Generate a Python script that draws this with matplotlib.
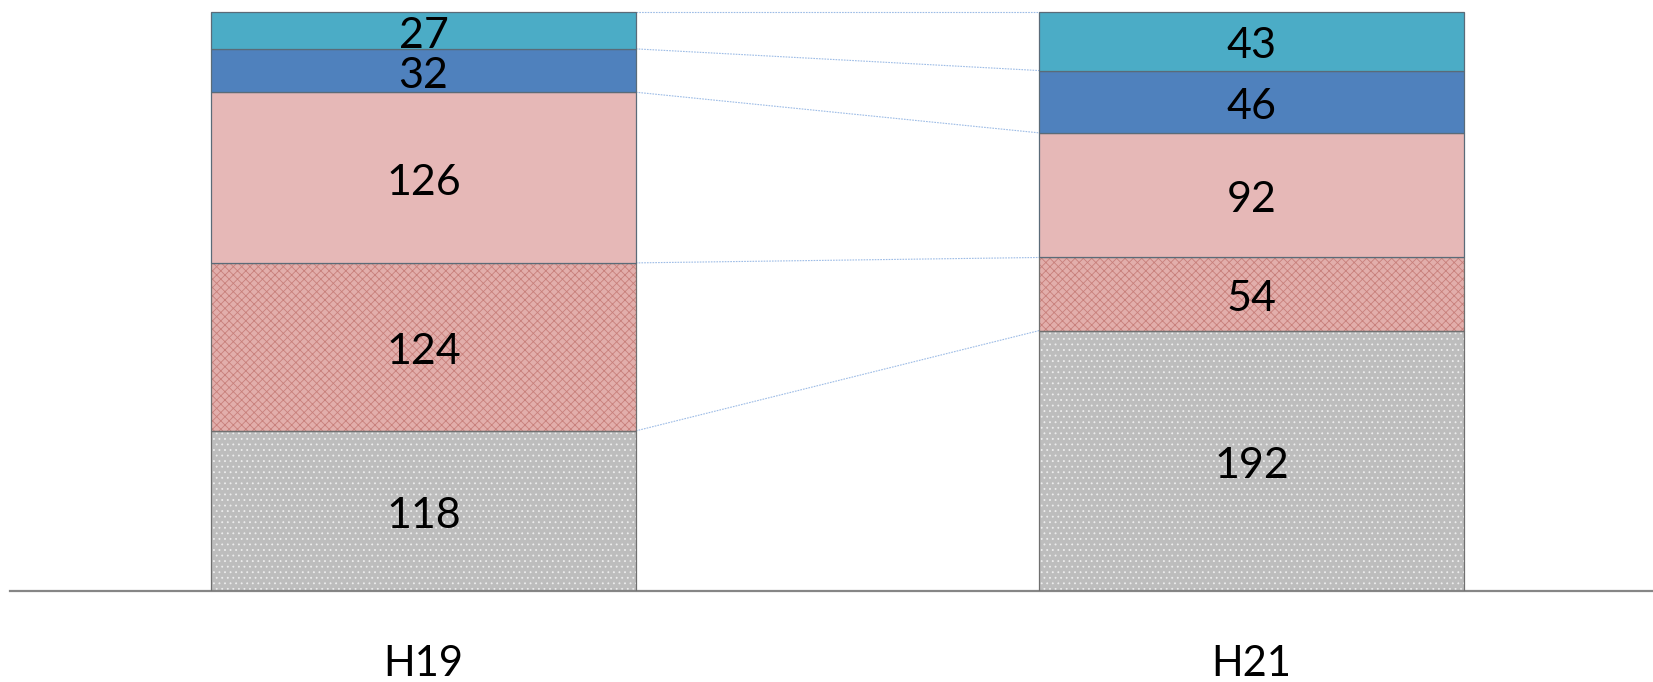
import matplotlib
matplotlib.use("Agg")
import matplotlib.pyplot as plt
import matplotlib.transforms as mtransforms
import numpy as np

plt.rcParams['font.family'] = ['Lato', 'DejaVu Sans']
plt.rcParams['hatch.linewidth'] = 0.6

categories = ["H19", "H21"]
# stacked segments, bottom to top
seg_gray = [118, 192]
seg_red_pattern = [124, 54]
seg_pink = [126, 92]
seg_blue = [32, 46]
seg_teal = [27, 43]

series = [seg_gray, seg_red_pattern, seg_pink, seg_blue, seg_teal]
faces = ["#BDBDBD", "#E2AEAB", "#E6B8B7", "#4F81BD", "#4BACC6"]
hatches = ["...", "xxxx", None, None, None]
hatch_colors = ["#EDEDED", "#C8807B", None, None, None]

W, H = 1653, 682
fig = plt.figure(figsize=(W / 100, H / 100), dpi=100)
base_px = 590.7
ax = fig.add_axes([9.5 / W, 1 - base_px / H, 1 - 9.5 / W, base_px / H])

x = np.arange(len(categories))
width = 0.513
px_per_unit = (base_px - 12.3) / 427.0
ax.set_xlim(-0.5, 1.485)
ax.set_ylim(0, base_px / px_per_unit)

label_shift = mtransforms.offset_copy(ax.transData, fig=fig, x=0, y=-5,
                                      units="dots")

bottoms = np.zeros(len(categories))
tops_per_level = []
for vals, fc, ht, hc in zip(series, faces, hatches, hatch_colors):
    vals = np.array(vals, dtype=float)
    if ht:
        ax.bar(x, vals, width, bottom=bottoms, color=fc, edgecolor=hc,
               hatch=ht, linewidth=0, zorder=2)
        ax.bar(x, vals, width, bottom=bottoms, fill=False,
               edgecolor="#707070", linewidth=0.9, zorder=3)
    else:
        ax.bar(x, vals, width, bottom=bottoms, color=fc,
               edgecolor="#5a6b78", linewidth=0.9, zorder=3)
    for xi, b, v in zip(x, bottoms, vals):
        ax.text(xi, b + v / 2, f"{int(v)}", ha="center", va="center",
                fontsize=31, color="black", zorder=4, transform=label_shift)
    bottoms = bottoms + vals
    tops_per_level.append(bottoms.copy())

# series lines joining the segment boundaries of the two columns
for tops in tops_per_level:
    ax.plot([x[0] + width / 2, x[1] - width / 2], [tops[0], tops[1]],
            color="#9DBCE6", linewidth=0.8, linestyle=(0, (1.5, 1.0)),
            zorder=1)

for s in ["top", "right", "left"]:
    ax.spines[s].set_visible(False)
ax.spines["bottom"].set_color("#868686")
ax.spines["bottom"].set_linewidth(1.6)
ax.set_yticks([])
ax.set_xticks(x)
ax.set_xticklabels(categories, fontsize=30)
ax.tick_params(axis="x", length=0, pad=39)

fig.savefig("out.png", dpi=100)
